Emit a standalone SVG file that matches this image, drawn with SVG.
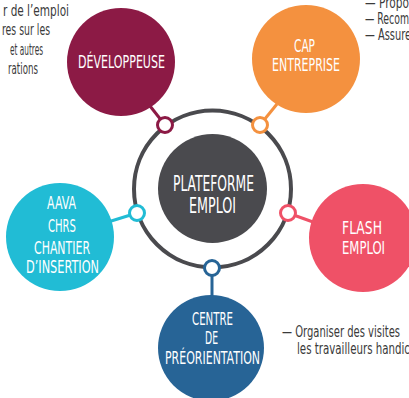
<svg xmlns="http://www.w3.org/2000/svg" width="409" height="398" viewBox="0 0 409 398">
<style>
.lbl{font-family:"Liberation Sans Narrow","DejaVu Sans Condensed","Liberation Sans",sans-serif;font-size:17px;fill:#ffffff;text-anchor:middle;}
.big{font-size:21.5px;}
.note{font-family:"Liberation Sans Narrow","DejaVu Sans Condensed","Liberation Sans",sans-serif;font-size:15px;fill:#3a3a3a;}
.dot{fill:#ffffff;stroke-width:3;}
.conn{stroke-width:3;fill:none;}
</style>
<rect width="409" height="398" fill="#ffffff"/>
<g id="notes">
<text class="note" x="3" y="16" textLength="66" lengthAdjust="spacingAndGlyphs">r de l’emploi</text>
<text class="note" x="2" y="35" textLength="48" lengthAdjust="spacingAndGlyphs">res sur les</text>
<text class="note" x="10" y="55" textLength="33" lengthAdjust="spacingAndGlyphs">et autres</text>
<text class="note" x="8" y="74" textLength="30" lengthAdjust="spacingAndGlyphs">rations</text>
<text class="note" x="365" y="8" textLength="44" lengthAdjust="spacingAndGlyphs">— Propo</text>
<text class="note" x="365" y="24" textLength="44" lengthAdjust="spacingAndGlyphs">— Recom</text>
<text class="note" x="365" y="40" textLength="46" lengthAdjust="spacingAndGlyphs">— Assure</text>
<text class="note" x="282" y="337" textLength="118" lengthAdjust="spacingAndGlyphs">— Organiser des visites</text>
<text class="note" x="297" y="354" textLength="113" lengthAdjust="spacingAndGlyphs">les travailleurs handic</text>
</g>
<g id="connectors">
<circle cx="212.5" cy="189" r="78.5" fill="none" stroke="#4a4a4e" stroke-width="4"/>
<line class="conn" x1="165" y1="125" x2="150" y2="106" stroke="#8c1a45"/>
<line class="conn" x1="260" y1="125" x2="277" y2="104" stroke="#f4913f"/>
<line class="conn" x1="137" y1="213" x2="108" y2="222" stroke="#21bcd5"/>
<line class="conn" x1="288" y1="213" x2="313" y2="222" stroke="#ef5167"/>
<line class="conn" x1="212" y1="268" x2="212" y2="297" stroke="#276496"/>
<circle class="dot" cx="165" cy="125" r="7.5" stroke="#8c1a45"/>
<circle class="dot" cx="260" cy="125" r="7.5" stroke="#f4913f"/>
<circle class="dot" cx="137" cy="213" r="7.5" stroke="#21bcd5"/>
<circle class="dot" cx="288" cy="213" r="7.5" stroke="#ef5167"/>
<circle class="dot" cx="212" cy="268" r="7.5" stroke="#276496"/>
</g>
<g id="plateforme">
<circle cx="212.5" cy="188.5" r="54.5" fill="#4a4a4e"/>
<text class="lbl big" x="213.5" y="191" textLength="81" lengthAdjust="spacingAndGlyphs">PLATEFORME</text>
<text class="lbl big" x="212.5" y="213" textLength="47" lengthAdjust="spacingAndGlyphs">EMPLOI</text>
</g>
<g id="developpeuse">
<circle cx="121" cy="62" r="54" fill="#8c1a45"/>
<text class="lbl" x="121.5" y="68" textLength="87" lengthAdjust="spacingAndGlyphs">DÉVELOPPEUSE</text>
</g>
<g id="cap-entreprise">
<circle cx="306" cy="59" r="54" fill="#f4913f"/>
<text class="lbl" x="304.5" y="52" textLength="21" lengthAdjust="spacingAndGlyphs">CAP</text>
<text class="lbl" x="306" y="71" textLength="68" lengthAdjust="spacingAndGlyphs">ENTREPRISE</text>
</g>
<g id="aava">
<circle cx="60" cy="237" r="54" fill="#21bcd5"/>
<text class="lbl" x="61.5" y="209" textLength="29" lengthAdjust="spacingAndGlyphs">AAVA</text>
<text class="lbl" x="62" y="232" textLength="28" lengthAdjust="spacingAndGlyphs">CHRS</text>
<text class="lbl" x="62" y="254" textLength="56" lengthAdjust="spacingAndGlyphs">CHANTIER</text>
<text class="lbl" x="62.5" y="273" textLength="73" lengthAdjust="spacingAndGlyphs">D’INSERTION</text>
</g>
<g id="flash-emploi">
<circle cx="363" cy="238" r="54" fill="#ef5167"/>
<text class="lbl" x="362" y="234" textLength="40" lengthAdjust="spacingAndGlyphs">FLASH</text>
<text class="lbl" x="363.5" y="254" textLength="43" lengthAdjust="spacingAndGlyphs">EMPLOI</text>
</g>
<g id="centre">
<circle cx="211" cy="348" r="53" fill="#276496"/>
<text class="lbl" x="212.5" y="325" textLength="41" lengthAdjust="spacingAndGlyphs">CENTRE</text>
<text class="lbl" x="211.5" y="344" textLength="13" lengthAdjust="spacingAndGlyphs">DE</text>
<text class="lbl" x="212.5" y="364" textLength="95" lengthAdjust="spacingAndGlyphs">PRÉORIENTATION</text>
</g>
</svg>
